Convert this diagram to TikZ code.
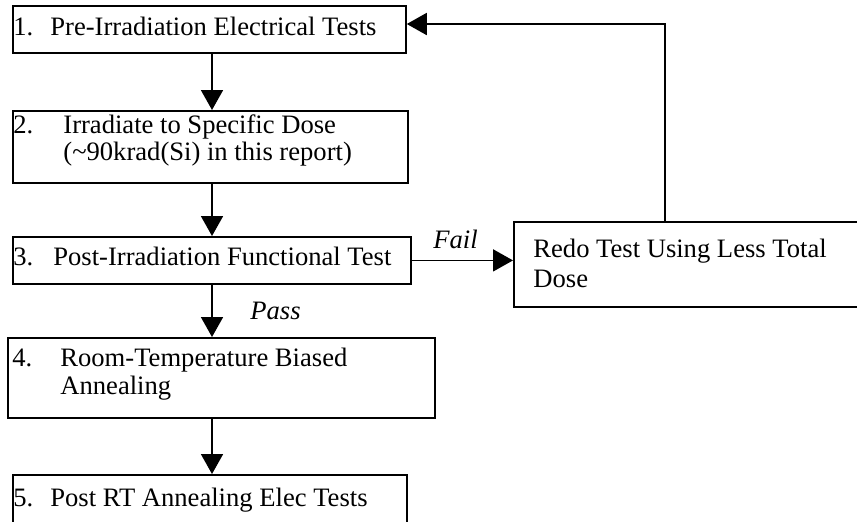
\documentclass[tikz,border=0pt]{standalone}
\usepackage{fontspec}
\setmainfont{Liberation Serif}
\usetikzlibrary{arrows.meta,positioning}

\begin{document}
\begin{tikzpicture}[x=0.5pt, y=-0.5pt,
  box/.style={draw, line width=0.9pt, inner sep=0pt, anchor=north west},
  txt/.style={anchor=base west, inner sep=0pt, font=\fontsize{13.3}{16}\selectfont},
  flow/.style={line width=0.9pt, -{Triangle[width=11pt,length=10pt]}}]
\useasboundingbox (0,0) rectangle (857,521);
\clip (0,0) rectangle (857,521);

% Boxes
\node[box, minimum width=196.5pt, minimum height=23.5pt] (pre) at (12,5) {};
\node[box, minimum width=197.5pt, minimum height=36pt] (irr) at (12,110) {};
\node[box, minimum width=199pt, minimum height=23.5pt] (post) at (12,236) {};
\node[box, minimum width=213.5pt, minimum height=40pt] (anneal) at (7,337) {};
\node[box, minimum width=197pt, minimum height=33pt] (elec) at (12,474) {};
\node[box, minimum width=178.5pt, minimum height=42.5pt] (redo) at (513,221) {};

% Texts
\node[txt] (pre-n) at (13,35) {1.};
\node[txt] (pre-t) at (50,35) {Pre-Irradiation Electrical Tests};
\node[txt] (irr-n) at (13,133) {2.};
\node[txt] (irr-t) at (63,133) {Irradiate to Specific Dose};
\node[txt] (irr-u) at (63,160) {(\textasciitilde90krad(Si) in this report)};
\node[txt] (post-n) at (13,265) {3.};
\node[txt] (post-t) at (53,265) {Post-Irradiation Functional Test};
\node[txt] (anneal-n) at (12,366) {4.};
\node[txt] (anneal-t) at (60,366) {Room-Temperature Biased};
\node[txt] (anneal-u) at (60,394) {Annealing};
\node[txt] (elec-n) at (13,506) {5.};
\node[txt] (elec-t) at (50,506) {Post RT Annealing Elec Tests};
\node[txt] (redo-t) at (533,257) {Redo Test Using Less Total};
\node[txt] (redo-u) at (533,287) {Dose};

% Arrows
\coordinate (spine) at (212,0);
\coordinate (loop) at (665,24);
\draw[flow] (pre.south -| spine) -- (irr.north -| spine);
\draw[flow] (irr.south -| spine) -- (post.north -| spine);
\draw[flow] (post.south -| spine) -- (anneal.north -| spine);
\draw[flow] (anneal.south -| spine) -- (elec.north -| spine);
\draw[flow] (post.east) -- (redo.west |- post.east);
\draw[flow] (redo.north -| loop) -- (loop) -- (pre.east |- loop);

% Labels
\node[txt, font=\fontsize{13.3}{16}\selectfont\itshape] (pass) at (250,319) {Pass};
\node[txt, font=\fontsize{13.3}{16}\selectfont\itshape] (fail) at (433,248) {Fail};
\end{tikzpicture}
\end{document}
